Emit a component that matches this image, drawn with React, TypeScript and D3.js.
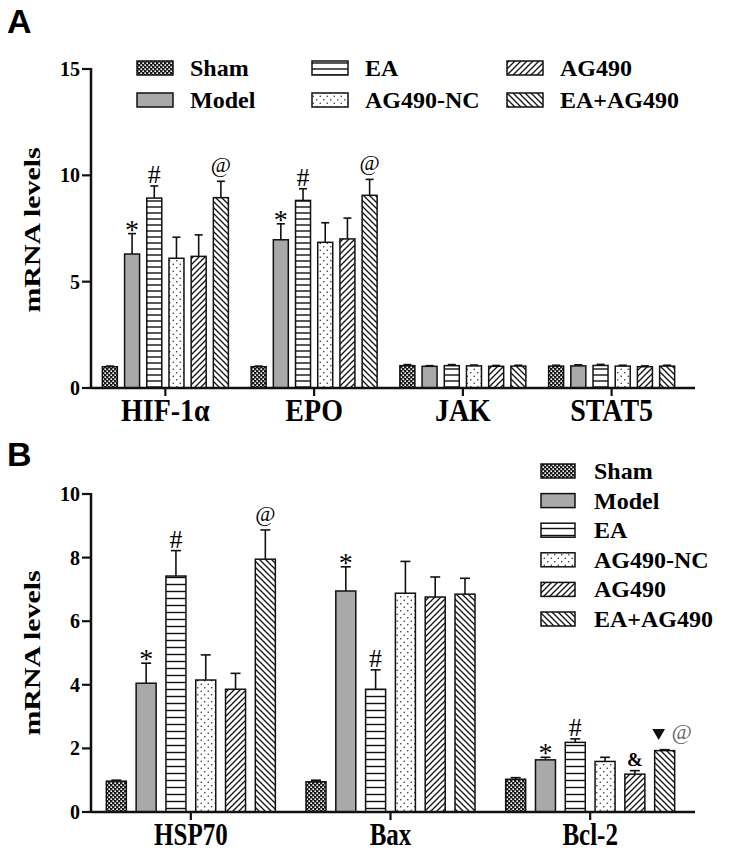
import React from "react";
import * as d3 from "d3";

const seriesNames = ["Sham", "Model", "EA", "AG490-NC", "AG490", "EA+AG490"];

// Panel A data
const catsA = ["HIF-1α", "EPO", "JAK", "STAT5"];
const ticksA = [0, 5, 10, 15];
const shamA = [1.0, 1.0, 1.05, 1.03];
const modelA = [6.3, 6.97, 1.02, 1.04];
const eaA = [8.93, 8.82, 1.05, 1.06];
const ncA = [6.1, 6.85, 1.04, 1.03];
const ag490A = [6.19, 7.01, 1.02, 1.0];
const eaAgA = [8.95, 9.06, 1.03, 1.03];
const shamErrA = [0.03, 0.03, 0.05, 0.04];
const modelErrA = [0.96, 0.75, 0.03, 0.05];
const eaErrA = [0.57, 0.55, 0.05, 0.05];
const ncErrA = [0.99, 0.92, 0.04, 0.04];
const ag490ErrA = [1.01, 0.98, 0.04, 0.04];
const eaAgErrA = [0.77, 0.75, 0.04, 0.04];
const marksA = [
  { cat: 0, s: 1, sym: "*" },
  { cat: 0, s: 2, sym: "#" },
  { cat: 0, s: 5, sym: "@" },
  { cat: 1, s: 1, sym: "*" },
  { cat: 1, s: 2, sym: "#" },
  { cat: 1, s: 5, sym: "@" },
];

// Panel B data
const catsB = ["HSP70", "Bax", "Bcl-2"];
const ticksB = [0, 2, 4, 6, 8, 10];
const shamB = [0.97, 0.95, 1.03];
const modelB = [4.05, 6.95, 1.64];
const eaB = [7.42, 3.86, 2.19];
const ncB = [4.15, 6.88, 1.59];
const ag490B = [3.86, 6.76, 1.19];
const eaAgB = [7.95, 6.85, 1.93];
const shamErrB = [0.03, 0.05, 0.05];
const modelErrB = [0.63, 0.76, 0.08];
const eaErrB = [0.8, 0.61, 0.11];
const ncErrB = [0.79, 1.0, 0.13];
const ag490ErrB = [0.5, 0.63, 0.11];
const eaAgErrB = [0.92, 0.5, 0.03];
const marksB = [
  { cat: 0, s: 1, sym: "*" },
  { cat: 0, s: 2, sym: "#" },
  { cat: 0, s: 5, sym: "@" },
  { cat: 1, s: 1, sym: "*" },
  { cat: 1, s: 2, sym: "#" },
  { cat: 2, s: 1, sym: "*" },
  { cat: 2, s: 2, sym: "#" },
  { cat: 2, s: 4, sym: "&" },
  { cat: 2, s: 5, sym: "▼@" },
];

const SERIF = "'Liberation Serif', 'Times New Roman', serif";
const SANS = "'Liberation Sans', Arial, sans-serif";
const patternKeys = ["checker", "solid", "hlines", "dots", "fwd", "back"];

function Patterns({ id, hsp }: { id: string; hsp: number }) {
  return (
    <>
      <pattern id={`${id}-checker`} width={4} height={4} patternUnits="userSpaceOnUse">
        <rect width={4} height={4} fill="#1a1a1a" />
        <rect x={0.4} y={0.4} width={1.6} height={1.6} fill="#fff" />
        <rect x={2.4} y={2.4} width={1.6} height={1.6} fill="#fff" />
      </pattern>
      <pattern id={`${id}-hlines`} width={10} height={hsp} patternUnits="userSpaceOnUse">
        <rect width={10} height={hsp} fill="#fff" />
        <line x1={0} x2={10} y1={hsp / 2} y2={hsp / 2} stroke="#111" strokeWidth={1.4} />
      </pattern>
      <pattern id={`${id}-dots`} width={7} height={7} patternUnits="userSpaceOnUse">
        <rect width={7} height={7} fill="#fff" />
        <circle cx={1.75} cy={1.75} r={0.8} fill="#333" />
        <circle cx={5.25} cy={5.25} r={0.8} fill="#333" />
      </pattern>
      <pattern id={`${id}-fwd`} width={6} height={6} patternUnits="userSpaceOnUse">
        <rect width={6} height={6} fill="#fff" />
        <path d="M0,6 L6,0 M-1.5,1.5 L1.5,-1.5 M4.5,7.5 L7.5,4.5" stroke="#111" strokeWidth={1.3} />
      </pattern>
      <pattern id={`${id}-back`} width={6} height={6} patternUnits="userSpaceOnUse">
        <rect width={6} height={6} fill="#fff" />
        <path d="M0,0 L6,6 M-1.5,4.5 L1.5,7.5 M4.5,-1.5 L7.5,1.5" stroke="#111" strokeWidth={1.3} />
      </pattern>
    </>
  );
}

function fillFor(id: string, i: number) {
  const k = patternKeys[i];
  return k === "solid" ? "#a9a9a9" : `url(#${id}-${k})`;
}

type PanelProps = {
  id: string;
  cats: string[];
  means: number[][];
  errs: number[][];
  ticks: number[];
  yTop: number;
  y0: number;
  xRange: [number, number];
  barStep: number;
  barW: number;
  capW: number;
  hsp: number;
  marks: { cat: number; s: number; sym: string }[];
  labelBaseline: number;
  labelSize: number;
  labelStretch: number;
  yLabelY: number;
};

function Panel(p: PanelProps) {
  const axisX = 91;
  const x = d3.scaleBand<string>().domain(p.cats).range(p.xRange).paddingInner(0).paddingOuter(0);
  const pad = 1 - p.barW / p.barStep;
  const xi = d3
    .scaleBand<string>()
    .domain(seriesNames)
    .range([-3 * p.barStep, 3 * p.barStep])
    .paddingInner(pad)
    .paddingOuter(pad / 2);
  const yMax = p.ticks[p.ticks.length - 1];
  const y = d3.scaleLinear().domain([0, yMax]).range([p.y0, p.yTop]);
  const cx = (c: number, s: number) =>
    (x(p.cats[c]) as number) + x.bandwidth() / 2 + (xi(seriesNames[s]) as number) + xi.bandwidth() / 2;
  const tri = d3.symbol(d3.symbolTriangle, 70)() as string;

  return (
    <g>
      <defs>
        <Patterns id={p.id} hsp={p.hsp} />
      </defs>
      {p.means.map((vals, s) =>
        vals.map((v, c) => {
          const xc = cx(c, s);
          const top = y(v);
          const et = y(v + p.errs[s][c]);
          return (
            <g key={`${s}-${c}`}>
              <line x1={xc} x2={xc} y1={top} y2={et} stroke="#111" strokeWidth={1.6} />
              <line x1={xc - p.capW / 2} x2={xc + p.capW / 2} y1={et} y2={et} stroke="#111" strokeWidth={1.6} />
              <rect
                x={xc - p.barW / 2}
                y={top}
                width={p.barW}
                height={p.y0 - top}
                fill={fillFor(p.id, s)}
                stroke="#111"
                strokeWidth={1.5}
              />
            </g>
          );
        })
      )}
      {p.marks.map((m, i) => {
        const xc = cx(m.cat, m.s);
        const et = y(p.means[m.s][m.cat] + p.errs[m.s][m.cat]);
        if (m.sym === "*")
          return (
            <text key={i} x={xc} y={et + 5} textAnchor="middle" fontFamily={SERIF} fontSize={28}>
              *
            </text>
          );
        if (m.sym === "#")
          return (
            <text key={i} x={xc} y={et - 3} textAnchor="middle" fontFamily={SERIF} fontSize={26}>
              #
            </text>
          );
        if (m.sym === "@")
          return (
            <text key={i} x={xc} y={et - 9} textAnchor="middle" fontFamily={SERIF} fontSize={22}>
              @
            </text>
          );
        if (m.sym === "&")
          return (
            <text key={i} x={xc} y={et - 5} textAnchor="middle" fontFamily={SERIF} fontWeight="bold" fontSize={19}>
              &amp;
            </text>
          );
        return (
          <g key={i}>
            <path d={tri} transform={`translate(${xc - 6},${et - 17}) rotate(180)`} fill="#111" />
            <text x={xc + 17} y={et - 11} textAnchor="middle" fontFamily={SERIF} fontStyle="italic" fontSize={22} fill="#666">
              @
            </text>
          </g>
        );
      })}
      <line x1={axisX} x2={axisX} y1={y(yMax) - 1} y2={p.y0} stroke="#111" strokeWidth={2.5} />
      {p.ticks.map((t) => (
        <g key={t}>
          <line x1={axisX - 9} x2={axisX} y1={y(t)} y2={y(t)} stroke="#111" strokeWidth={2.2} />
          <text x={axisX - 11} y={y(t) + 7} textAnchor="end" fontFamily={SERIF} fontWeight="bold" fontSize={20}>
            {t}
          </text>
        </g>
      ))}
      <line x1={axisX} x2={695} y1={p.y0} y2={p.y0} stroke="#111" strokeWidth={2.5} />
      {p.cats.map((c) => {
        const xc = (x(c) as number) + x.bandwidth() / 2;
        return (
          <g key={c}>
            <line x1={xc} x2={xc} y1={p.y0} y2={p.y0 + 8} stroke="#111" strokeWidth={2.2} />
            <text
              transform={`translate(${xc},${p.labelBaseline}) scale(1,${p.labelStretch})`}
              textAnchor="middle"
              fontFamily={SERIF}
              fontWeight="bold"
              fontSize={p.labelSize}
            >
              {c}
            </text>
          </g>
        );
      })}
      <text
        transform={`translate(40,${p.yLabelY}) scale(1,1.3) rotate(-90)`}
        textAnchor="middle"
        fontFamily={SERIF}
        fontWeight="bold"
        fontSize={23}
      >
        mRNA levels
      </text>
    </g>
  );
}

export default function App() {
  const legendAX = [137, 312, 507];
  const legendAY = [68, 100];
  const legendBY0 = 471;
  return (
    <svg
      width={735}
      height={852}
      viewBox="0 0 735 852"
      style={{ position: "absolute", left: 0, top: 0, background: "#fff" }}
    >
      <rect width={735} height={852} fill="#fff" />
      <text x={7} y={33} fontFamily={SANS} fontWeight="bold" fontSize={34}>
        A
      </text>
      <text x={7} y={466} fontFamily={SANS} fontWeight="bold" fontSize={34}>
        B
      </text>
      <Panel
        id="pa"
        cats={catsA}
        means={[shamA, modelA, eaA, ncA, ag490A, eaAgA]}
        errs={[shamErrA, modelErrA, eaErrA, ncErrA, ag490ErrA, eaAgErrA]}
        ticks={ticksA}
        yTop={69}
        y0={388}
        xRange={[91, 686]}
        barStep={22.2}
        barW={15}
        capW={8}
        hsp={6}
        marks={marksA}
        labelBaseline={421}
        labelSize={28}
        labelStretch={1.1}
        yLabelY={230}
      />
      <Panel
        id="pb"
        cats={catsB}
        means={[shamB, modelB, eaB, ncB, ag490B, eaAgB]}
        errs={[shamErrB, modelErrB, eaErrB, ncErrB, ag490ErrB, eaAgErrB]}
        ticks={ticksB}
        yTop={494}
        y0={812}
        xRange={[91, 690]}
        barStep={29.8}
        barW={20}
        capW={10}
        hsp={7}
        marks={marksB}
        labelBaseline={845}
        labelSize={25}
        labelStretch={1.3}
        yLabelY={653}
      />
      {seriesNames.map((n, i) => {
        const col = Math.floor(i / 2);
        const row = i % 2;
        const lx = legendAX[col];
        const ly = legendAY[row];
        return (
          <g key={n}>
            <rect x={lx} y={ly - 7} width={36} height={14} fill={fillFor("pa", i)} stroke="#111" strokeWidth={1.5} />
            <text x={lx + 53} y={ly + 8} fontFamily={SERIF} fontWeight="bold" fontSize={24}>
              {n}
            </text>
          </g>
        );
      })}
      {seriesNames.map((n, i) => {
        const ly = legendBY0 + i * 29.6;
        return (
          <g key={n}>
            <rect x={541} y={ly - 7} width={34} height={14} fill={fillFor("pb", i)} stroke="#111" strokeWidth={1.5} />
            <text x={594} y={ly + 8} fontFamily={SERIF} fontWeight="bold" fontSize={24}>
              {n}
            </text>
          </g>
        );
      })}
    </svg>
  );
}
